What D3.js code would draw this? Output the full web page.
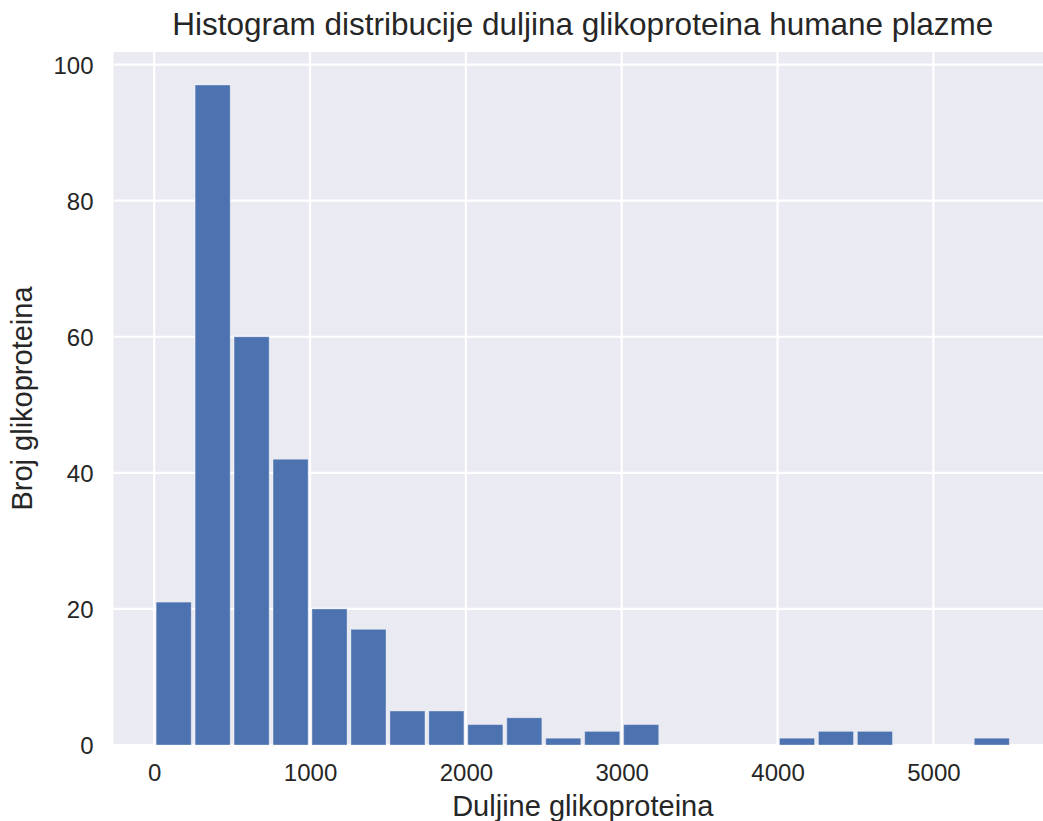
<!DOCTYPE html>
<html>
<head>
<meta charset="utf-8">
<script src="https://cdn.jsdelivr.net/npm/d3@7"></script>
<style>
  html, body { margin: 0; padding: 0; background: #ffffff; }
  svg { display: block; }
  text { font-family: "Liberation Sans", Arial, Helvetica, sans-serif; fill: #262626; }
</style>
</head>
<body>
<svg id="chart" width="1043" height="821"></svg>
<script>
// ---- data ----
const binStarts = [0, 250, 500, 750, 1000, 1250, 1500, 1750, 2000, 2250, 2500, 2750,
                   3000, 3250, 3500, 3750, 4000, 4250, 4500, 4750, 5000, 5250];
const counts    = [21, 97, 60, 42, 20, 17, 5, 5, 3, 4, 1, 2,
                   3, 0, 0, 0, 1, 2, 2, 0, 0, 1];
const binWidth = 250;
const xTicks = [0, 1000, 2000, 3000, 4000, 5000];
const yTicks = [0, 20, 40, 60, 80, 100];
const titleText = "Histogram distribucije duljina glikoproteina humane plazme";
const xLabelText = "Duljine glikoproteina";
const yLabelText = "Broj glikoproteina";

// ---- layout ----
const W = 1043, H = 821;
const plot = { left: 113.5, right: 1052, top: 52, bottom: 745 };
const rwidth = 0.9;

const svg = d3.select("#chart");

const xMin = binStarts[0] + binWidth * (1 - rwidth) / 2;
const xMax = binStarts[binStarts.length - 1] + binWidth - binWidth * (1 - rwidth) / 2;
const xPad = (xMax - xMin) * 0.05;
const x = d3.scaleLinear().domain([xMin - xPad, xMax + xPad]).range([plot.left, plot.right]);
const y = d3.scaleLinear().domain([0, d3.max(counts) * 1.05]).range([plot.bottom, plot.top]);

// clip for plot area (extends past the right image edge)
svg.append("defs").append("clipPath").attr("id", "clip")
  .append("rect").attr("x", plot.left).attr("y", plot.top)
  .attr("width", plot.right - plot.left).attr("height", plot.bottom - plot.top);

// background
svg.append("rect")
  .attr("x", plot.left).attr("y", plot.top)
  .attr("width", plot.right - plot.left).attr("height", plot.bottom - plot.top)
  .attr("fill", "#EAEAF2");

const g = svg.append("g").attr("clip-path", "url(#clip)");

// grid
g.selectAll("line.vgrid").data(xTicks).join("line")
  .attr("class", "vgrid")
  .attr("x1", d => x(d)).attr("x2", d => x(d))
  .attr("y1", plot.top).attr("y2", plot.bottom)
  .attr("stroke", "#ffffff").attr("stroke-width", 2.2);
g.selectAll("line.hgrid").data(yTicks).join("line")
  .attr("class", "hgrid")
  .attr("x1", plot.left).attr("x2", plot.right)
  .attr("y1", d => y(d)).attr("y2", d => y(d))
  .attr("stroke", "#ffffff").attr("stroke-width", 2.2);

// bars
const bars = binStarts.map((s, i) => ({ s, c: counts[i] })).filter(d => d.c > 0);
g.selectAll("rect.bar").data(bars).join("rect")
  .attr("class", "bar")
  .attr("x", d => x(d.s + binWidth * (1 - rwidth) / 2))
  .attr("width", d => x(d.s + binWidth * (1 + rwidth) / 2) - x(d.s + binWidth * (1 - rwidth) / 2))
  .attr("y", d => y(d.c))
  .attr("height", d => y(0) - y(d.c))
  .attr("fill", "#4C72B0")
  .attr("stroke", "#ffffff").attr("stroke-opacity", 0.35).attr("stroke-width", 1);

// x axis
const xAxis = d3.axisBottom(x).tickValues(xTicks).tickSize(0).tickPadding(0).tickFormat(d3.format("d"));
const xg = svg.append("g").attr("transform", `translate(0,${plot.bottom})`).call(xAxis);
xg.select(".domain").remove();
xg.selectAll("text").attr("font-size", 24).attr("fill", "#262626")
  .attr("dy", null).attr("y", 36);

// y axis
const yAxis = d3.axisLeft(y).tickValues(yTicks).tickSize(0).tickPadding(0).tickFormat(d3.format("d"));
const yg = svg.append("g").attr("transform", `translate(${plot.left},0)`).call(yAxis);
yg.select(".domain").remove();
yg.selectAll("text").attr("font-size", 24).attr("fill", "#262626")
  .attr("x", -20).attr("dy", "0.36em");

// title
svg.append("text")
  .attr("x", (plot.left + plot.right) / 2).attr("y", 35)
  .attr("text-anchor", "middle").attr("font-size", 31.5)
  .text(titleText);

// x label
svg.append("text")
  .attr("x", (plot.left + plot.right) / 2).attr("y", 816)
  .attr("text-anchor", "middle").attr("font-size", 29)
  .text(xLabelText);

// y label
svg.append("text")
  .attr("transform", `translate(32,${(plot.top + plot.bottom) / 2}) rotate(-90)`)
  .attr("text-anchor", "middle").attr("font-size", 29)
  .text(yLabelText);
</script>
</body>
</html>
